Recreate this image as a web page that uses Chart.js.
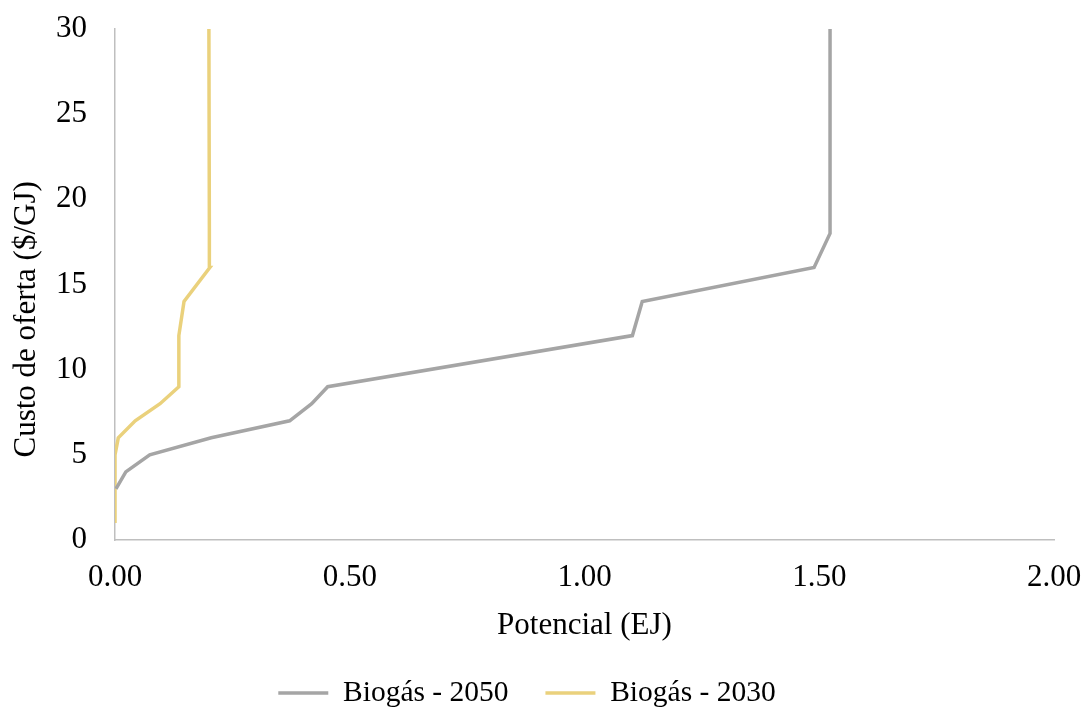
<!DOCTYPE html>
<html>
<head>
<meta charset="utf-8">
<script src="https://cdn.jsdelivr.net/npm/chart.js@4"></script>
<style>
  html, body { margin: 0; padding: 0; background: #fff; }
  #wrap { width: 1084px; height: 715px; }
</style>
</head>
<body>
<div id="wrap"><canvas id="chart"></canvas></div>
<script>
// Supply curves: potential (EJ) vs supply cost ($/GJ)
const seriesLabels = ['Biogás - 2050', 'Biogás - 2030'];

const potencial2050 = [0.002, 0.023, 0.074, 0.205, 0.372, 0.419, 0.453, 1.102, 1.123, 1.489, 1.523, 1.523];
const custo2050     = [3,     4,     5,     6,     7,     8,     9,     12,    14,    16,    18,    30];

const potencial2030 = [0.000, 0.000, 0.000, 0.000, 0.000, 0.007, 0.043, 0.096, 0.136, 0.136, 0.147, 0.202, 0.201, 0.200];
const custo2030     = [1,     2,     3,     4,     5,     6,     7,     8,     9,     12,    14,    16,    18,    30];

const xTicks = [0, 0.5, 1, 1.5, 2];
const yTicks = [0, 5, 10, 15, 20, 25, 30];

const FONT = "'Liberation Serif', 'Times New Roman', serif";
const AXIS_FONT = { family: FONT, size: 31 };
const LEGEND_FONT = { family: FONT, size: 29.5 };
const AXIS_GREY = '#bfbfbf';
const NBSP = '\u00A0';

const toPoints = (xs, ys) => xs.map((x, i) => ({ x: x, y: ys[i] }));

new Chart(document.getElementById('chart'), {
  type: 'scatter',
  data: {
    datasets: [
      {
        label: seriesLabels[0],
        data: toPoints(potencial2050, custo2050),
        borderColor: '#a5a5a5',
        backgroundColor: '#a5a5a5',
        borderWidth: 3.5,
        showLine: true,
        pointRadius: 0,
        tension: 0
      },
      {
        label: seriesLabels[1],
        data: toPoints(potencial2030, custo2030),
        borderColor: '#ead17c',
        backgroundColor: '#ead17c',
        borderWidth: 3.5,
        showLine: true,
        pointRadius: 0,
        tension: 0
      }
    ]
  },
  options: {
    responsive: true,
    maintainAspectRatio: false,
    animation: false,
    // small negative bottom pad pushes the legend into the last few pixels
    layout: { padding: { left: 0, right: 30, top: 29, bottom: -2.75 } },
    plugins: {
      tooltip: { enabled: false },
      legend: {
        position: 'bottom',
        labels: {
          color: '#000',
          font: LEGEND_FONT,
          usePointStyle: true,
          pointStyle: 'line',
          pointStyleWidth: 50,
          padding: 0,
          // extra room after the first entry, as in the original legend
          generateLabels: (chart) => {
            const items = Chart.defaults.plugins.legend.labels.generateLabels(chart);
            items.forEach((it, i) => {
              it.lineWidth = 3.5;
              if (i < items.length - 1) it.text += NBSP.repeat(5);
            });
            return items;
          }
        }
      }
    },
    scales: {
      x: {
        type: 'linear',
        min: 0,
        max: 2,
        afterBuildTicks: (scale) => { scale.ticks = xTicks.map(v => ({ value: v })); },
        afterFit: (scale) => { scale.height = 138.25; },
        // tick marks are hidden; tickLength only spaces the labels off the axis
        grid: { display: false, drawTicks: true, tickLength: 19 },
        border: { display: true, color: AXIS_GREY, width: 1.5 },
        ticks: {
          color: '#000',
          font: AXIS_FONT,
          padding: 0,
          maxRotation: 0,
          callback: (v) => Number(v).toFixed(2)
        },
        title: {
          display: true,
          text: 'Potencial (EJ)',
          color: '#000',
          font: AXIS_FONT,
          padding: { top: 0, bottom: 33.6 }
        }
      },
      y: {
        type: 'linear',
        min: 0,
        max: 30,
        afterBuildTicks: (scale) => { scale.ticks = yTicks.map(v => ({ value: v })); },
        afterFit: (scale) => { scale.width = 115; },
        grid: { display: false, drawTicks: true, tickLength: 28 },
        border: { display: true, color: AXIS_GREY, width: 1.5 },
        ticks: {
          color: '#000',
          font: AXIS_FONT,
          padding: 0
        },
        title: {
          display: true,
          // trailing spaces nudge the title below the axis centre, like the original
          text: 'Custo de oferta ($/GJ)' + NBSP.repeat(9),
          color: '#000',
          font: AXIS_FONT,
          padding: { top: 8, bottom: 0 }
        }
      }
    }
  }
});
</script>
</body>
</html>
